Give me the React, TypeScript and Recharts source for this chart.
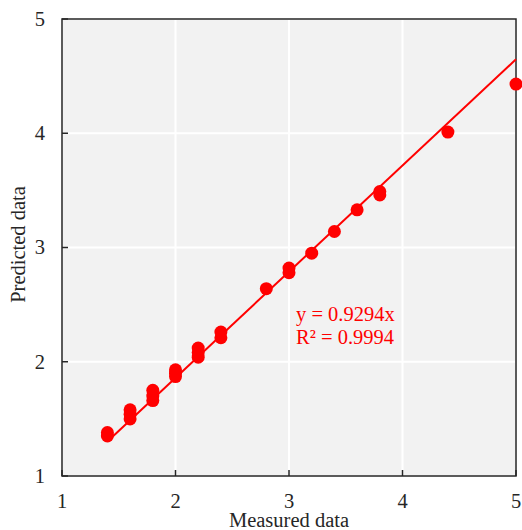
import {
  CartesianGrid,
  ReferenceArea,
  ReferenceLine,
  Scatter,
  ScatterChart,
  XAxis,
  YAxis,
} from "recharts";

const measured = [
  1.4, 1.4, 1.6, 1.6, 1.6, 1.8, 1.8, 1.8, 2.0, 2.0, 2.0, 2.2, 2.2, 2.2, 2.4,
  2.4, 2.8, 3.0, 3.0, 3.2, 3.4, 3.6, 3.8, 3.8, 4.4, 5.0,
];
const predicted = [
  1.35, 1.38, 1.5, 1.54, 1.58, 1.66, 1.7, 1.75, 1.87, 1.9, 1.93, 2.04, 2.08,
  2.12, 2.21, 2.26, 2.64, 2.78, 2.82, 2.95, 3.14, 3.33, 3.46, 3.49, 4.01, 4.43,
];
const axisTicks = [1, 2, 3, 4, 5];
const slope = 0.9294;
const rSquared = 0.9994;
const fitRange = [1.4, 5];

const points = measured.map((m, i) => ({ x: m, y: predicted[i] }));
const fitSegment = fitRange.map((x) => ({ x, y: slope * x }));

const FONT = '"Liberation Serif", "Times New Roman", serif';
const FS = 20.5;
const INK = "#262626";
const RED = "#ff0000";

function XTick({ x, y, payload }: any) {
  return (
    <g>
      <line x1={x} x2={x} y1={y} y2={y - 6} stroke={INK} strokeWidth={1.5} />
      <text x={x} y={y + 32} textAnchor="middle" fill={INK} fontSize={FS} fontFamily={FONT}>
        {payload.value}
      </text>
    </g>
  );
}

function YTick({ x, y, payload }: any) {
  return (
    <g>
      <line x1={x} x2={x + 6} y1={y} y2={y} stroke={INK} strokeWidth={1.5} />
      <text x={x - 17} y={y} dy="0.34em" textAnchor="end" fill={INK} fontSize={FS} fontFamily={FONT}>
        {payload.value}
      </text>
    </g>
  );
}

function Dot({ cx, cy }: any) {
  return <circle cx={cx} cy={cy} r={6.5} fill={RED} />;
}

export default function App() {
  return (
    <div style={{ position: "relative", width: 522, height: 530, background: "#fff" }}>
      <style>{`body{margin:0}`}</style>
      <ScatterChart width={522} height={530} margin={{ top: 19, right: 6, bottom: 0, left: 0 }}>
        <CartesianGrid
          stroke="#ffffff"
          strokeWidth={2}
          fill="#f2f2f2"
          fillOpacity={1}
        />
        <XAxis
          type="number"
          dataKey="x"
          domain={[1, 5]}
          ticks={axisTicks}
          height={54}
          axisLine={false}
          tickLine={false}
          tickSize={0}
          tickMargin={0}
          tick={<XTick />}
          label={({ viewBox }: any) => (
            <text
              x={viewBox.x + viewBox.width / 2}
              y={viewBox.y + viewBox.height - 3}
              textAnchor="middle"
              fill={INK}
              fontSize={FS}
              fontFamily={FONT}
            >
              Measured data
            </text>
          )}
        />
        <YAxis
          type="number"
          dataKey="y"
          domain={[1, 5]}
          ticks={axisTicks}
          width={62}
          axisLine={false}
          tickLine={false}
          tickSize={0}
          tickMargin={0}
          tick={<YTick />}
          label={({ viewBox }: any) => {
            const cx = viewBox.x + 18;
            const cy = viewBox.y + viewBox.height / 2 - 3;
            return (
              <text
                x={cx}
                y={cy}
                dy="0.32em"
                transform={`rotate(-90 ${cx} ${cy})`}
                textAnchor="middle"
                fill={INK}
                fontSize={FS}
                fontFamily={FONT}
              >
                Predicted data
              </text>
            );
          }}
        />
        <ReferenceArea
          x1={1}
          x2={5}
          y1={1}
          y2={5}
          fill="none"
          stroke={INK}
          strokeWidth={1.5}
          ifOverflow="visible"
        />
        <ReferenceLine
          segment={fitSegment}
          stroke={RED}
          strokeWidth={2}
          ifOverflow="visible"
        />
        <Scatter data={points} fill={RED} shape={<Dot />} isAnimationActive={false} />
      </ScatterChart>
      <div
        style={{
          position: "absolute",
          left: 296,
          top: 303,
          color: RED,
          fontFamily: FONT,
          fontSize: FS,
          lineHeight: "22.5px",
          whiteSpace: "nowrap",
        }}
      >
        <div>y = {slope}x</div>
        <div>R² = {rSquared}</div>
      </div>
    </div>
  );
}
